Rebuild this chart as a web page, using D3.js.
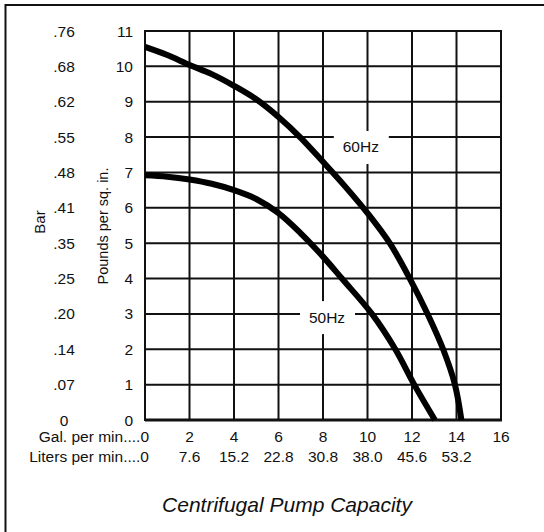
<!DOCTYPE html>
<html>
<head>
<meta charset="utf-8">
<script src="https://cdn.jsdelivr.net/npm/d3@7"></script>
<style>
  body { margin: 0; background: #fff; }
  text { font-family: "Liberation Sans", Arial, sans-serif; fill: #111; }
</style>
</head>
<body>
<div id="chart"></div>
<script>
// Tick values and labels
var gpmTicks = [2, 4, 6, 8, 10, 12, 14, 16];
var literLabels = ["7.6", "15.2", "22.8", "30.8", "38.0", "45.6", "53.2"];
var psiTicks = [0, 1, 2, 3, 4, 5, 6, 7, 8, 9, 10, 11];
var barLabels = ["0", ".07", ".14", ".20", ".25", ".35", ".41", ".48", ".55", ".62", ".68", ".76"];

// Pump curves (gal per min, psi)
var gpm60 = [0, 1, 2, 3, 4, 5, 6, 7, 8, 9, 10, 11, 11.9, 12.7, 13.4, 13.93, 14.22];
var psi60 = [10.55, 10.32, 10.04, 9.78, 9.45, 9.07, 8.57, 7.98, 7.3, 6.6, 5.85, 5.0, 4, 3, 2, 1, 0];
var gpm50 = [0, 1, 2, 3, 4, 5, 6, 7, 8, 8.85, 10.2, 11.25, 12.1, 13.03];
var psi50 = [6.92, 6.88, 6.8, 6.68, 6.5, 6.25, 5.85, 5.28, 4.62, 4, 3, 2, 1, 0];

var width = 544, height = 532;

var svg = d3.select("#chart")
  .append("svg")
  .attr("width", width)
  .attr("height", height);

// outer frame (only top and left edges show)
svg.append("path")
  .attr("d", "M5.5,532 L5.5,5 L544,5")
  .attr("fill", "none")
  .attr("stroke", "#111")
  .attr("stroke-width", 2);

var x = d3.scaleLinear().domain([0, 16]).range([145, 501]);
var y = d3.scaleLinear().domain([0, 11]).range([420, 31]);

// grid
svg.selectAll("hgrid")
  .data(psiTicks.slice(1, 11))
  .enter()
  .append("line")
    .attr("x1", x(0)).attr("x2", x(16))
    .attr("y1", function(d) { return y(d); })
    .attr("y2", function(d) { return y(d); })
    .attr("stroke", "#111")
    .attr("stroke-width", 2);

svg.selectAll("vgrid")
  .data(gpmTicks.slice(0, 7))
  .enter()
  .append("line")
    .attr("y1", y(0)).attr("y2", y(11))
    .attr("x1", function(d) { return x(d); })
    .attr("x2", function(d) { return x(d); })
    .attr("stroke", "#111")
    .attr("stroke-width", 2);

// plot border
svg.append("rect")
  .attr("x", x(0)).attr("y", y(11))
  .attr("width", x(16) - x(0))
  .attr("height", y(0) - y(11))
  .attr("fill", "none")
  .attr("stroke", "#111")
  .attr("stroke-width", 2);
svg.append("line")
  .attr("x1", x(0)).attr("x2", x(16) + 1)
  .attr("y1", y(0)).attr("y2", y(0))
  .attr("stroke", "#111")
  .attr("stroke-width", 3);

// curve labels with a white gap in the grid
var curveLabels = [
  { name: "60Hz", gpm: 9.7, psi: 7.72 },
  { name: "50Hz", gpm: 8.18, psi: 2.91 }
];
svg.selectAll("labelBox")
  .data(curveLabels)
  .enter()
  .append("rect")
    .attr("x", function(d) { return x(d.gpm) - 27; })
    .attr("y", function(d) { return y(d.psi) - 16; })
    .attr("width", 55)
    .attr("height", 33)
    .attr("fill", "#fff");
svg.selectAll("labelText")
  .data(curveLabels)
  .enter()
  .append("text")
    .attr("x", function(d) { return x(d.gpm); })
    .attr("y", function(d) { return y(d.psi) + 5.5; })
    .attr("text-anchor", "middle")
    .style("font-size", "15.5px")
    .text(function(d) { return d.name; });

// curves
var line = d3.line()
  .x(function(d) { return x(d[0]); })
  .y(function(d) { return y(d[1]); })
  .curve(d3.curveCatmullRom.alpha(0.5));

[[gpm60, psi60], [gpm50, psi50]].forEach(function(s) {
  svg.append("path")
    .datum(d3.zip(s[0], s[1]))
    .attr("d", line)
    .attr("fill", "none")
    .attr("stroke", "#000")
    .attr("stroke-width", 6)
    .attr("stroke-linecap", "butt");
});

// psi tick labels
svg.selectAll("psiLabels")
  .data(psiTicks)
  .enter()
  .append("text")
    .attr("x", 133)
    .attr("y", function(d) { return y(d) + 5.5; })
    .attr("text-anchor", "end")
    .style("font-size", "15.5px")
    .text(function(d) { return d; });

// bar tick labels
svg.selectAll("barLabels")
  .data(barLabels)
  .enter()
  .append("text")
    .attr("x", 64)
    .attr("y", function(d, i) { return y(psiTicks[i]) + 5.5; })
    .attr("text-anchor", "middle")
    .style("font-size", "15.5px")
    .text(function(d) { return d; });

// axis titles
svg.append("text")
  .attr("transform", "translate(45," + 222 + ") rotate(-90)")
  .attr("text-anchor", "middle")
  .style("font-size", "15px")
  .text("Bar");
svg.append("text")
  .attr("transform", "translate(108," + 226 + ") rotate(-90)")
  .attr("text-anchor", "middle")
  .style("font-size", "14.5px")
  .text("Pounds per sq. in.");

// x tick rows
svg.selectAll("gpmLabels")
  .data(gpmTicks)
  .enter()
  .append("text")
    .attr("x", function(d) { return x(d); })
    .attr("y", 442)
    .attr("text-anchor", "middle")
    .style("font-size", "15.5px")
    .text(function(d) { return d; });
svg.selectAll("literLabels")
  .data(literLabels)
  .enter()
  .append("text")
    .attr("x", function(d, i) { return x(gpmTicks[i]); })
    .attr("y", 462)
    .attr("text-anchor", "middle")
    .style("font-size", "15.5px")
    .text(function(d) { return d; });

svg.append("text")
  .attr("x", x(0) + 4)
  .attr("y", 442)
  .attr("text-anchor", "end")
  .style("font-size", "15.5px")
  .text("Gal. per min....0");
svg.append("text")
  .attr("x", x(0) + 4)
  .attr("y", 462)
  .attr("text-anchor", "end")
  .style("font-size", "15.5px")
  .text("Liters per min....0");

// title
svg.append("text")
  .attr("x", 287)
  .attr("y", 512)
  .attr("text-anchor", "middle")
  .style("font-size", "21px")
  .style("font-style", "italic")
  .text("Centrifugal Pump Capacity");
</script>
</body>
</html>
